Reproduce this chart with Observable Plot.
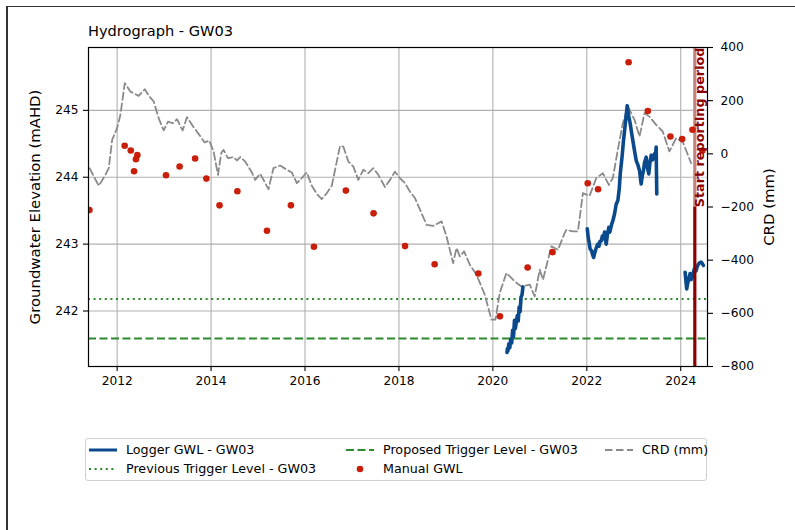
<!DOCTYPE html>
<html><head><meta charset="utf-8">
<script src="https://cdn.jsdelivr.net/npm/d3@7"></script>
<script src="https://cdn.jsdelivr.net/npm/@observablehq/plot@0.6"></script>
<style>
body{margin:0;background:#fff;font-family:"DejaVu Sans",sans-serif;color:#000;}
#wrap{position:relative;width:795px;height:530px;overflow:hidden;background:#fff;}
.bl{position:absolute;left:6px;top:6px;width:2px;height:530px;background:#333;}
.bt{position:absolute;left:6px;top:6px;width:800px;height:1px;background:#333;}
#title{position:absolute;left:88px;top:24px;font-size:14.6px;line-height:14.6px;white-space:nowrap;}
#chart{position:absolute;left:0;top:0;}
.lab{position:absolute;font-size:14.9px;line-height:16px;white-space:nowrap;transform:translate(-50%,-50%) rotate(-90deg);}
#legbox{position:absolute;left:85px;top:438px;width:622px;height:43px;border:1px solid #d0d0d0;border-radius:3px;box-sizing:border-box;}
.li{position:absolute;height:14px;line-height:14px;font-size:12.7px;white-space:nowrap;}
.li svg{position:absolute;top:0;}
</style></head><body>
<div id="wrap">
  <div class="bl"></div><div class="bt"></div>
  <div id="chart"></div>
  <div id="title">Hydrograph - GW03</div>
  <div class="lab" style="left:35px;top:207px;">Groundwater Elevation (mAHD)</div>
  <div class="lab" style="left:769px;top:207px;">CRD (mm)</div>
  <div id="legbox"></div>
  <div id="legend"></div>
</div>
<script>
// ---- Data ----
const manualT = [2011.41, 2012.16, 2012.29, 2012.43, 2012.40, 2012.36, 2013.04, 2013.33, 2013.66, 2013.90,
  2014.18, 2014.56, 2015.19, 2015.70, 2016.19, 2016.87, 2017.46, 2018.13, 2018.76, 2019.69,
  2020.15, 2020.74, 2021.27, 2022.02, 2022.24, 2022.89, 2023.30, 2023.78, 2024.03, 2024.25, 2024.46];
const manualV = [243.51, 244.47, 244.40, 244.33, 244.27, 244.09, 244.03, 244.16, 244.28, 243.98,
  243.58, 243.79, 243.20, 243.58, 242.96, 243.80, 243.46, 242.97, 242.70, 242.56,
  241.92, 242.65, 242.88, 243.91, 243.82, 245.72, 244.99, 244.61, 244.57, 244.71, 244.40];

const logger1T = [2020.30, 2020.31, 2020.32, 2020.34, 2020.36, 2020.38, 2020.40, 2020.42, 2020.44, 2020.46, 2020.48,
  2020.50, 2020.52, 2020.54, 2020.56, 2020.58, 2020.60, 2020.62, 2020.64];
const logger1V = [241.38, 241.44, 241.40, 241.51, 241.45, 241.58, 241.52, 241.71, 241.62, 241.86, 241.74,
  241.84, 241.93, 241.85, 242.06, 241.99, 242.21, 242.24, 242.36];

const logger2T = [2022.01, 2022.03, 2022.05, 2022.07, 2022.10, 2022.125, 2022.145, 2022.17, 2022.19, 2022.21, 2022.236,
  2022.26, 2022.28, 2022.308, 2022.33, 2022.35, 2022.378, 2022.40, 2022.414, 2022.44, 2022.47, 2022.49, 2022.51,
  2022.53, 2022.555, 2022.59, 2022.627, 2022.661, 2022.69, 2022.712, 2022.75, 2022.782, 2022.82, 2022.861,
  2022.89, 2022.925, 2022.95, 2022.98, 2023.01, 2023.052, 2023.09, 2023.122, 2023.158, 2023.18, 2023.207,
  2023.23, 2023.264, 2023.29, 2023.32, 2023.345, 2023.371, 2023.40, 2023.441, 2023.46, 2023.477, 2023.483, 2023.49];
const logger2V = [243.23, 243.10, 243.02, 242.93, 242.90, 242.84, 242.80, 242.87, 242.92, 242.96, 243.00,
  242.97, 243.04, 243.05, 243.12, 243.08, 243.18, 243.05, 243.00, 243.15, 243.25, 243.18, 243.24,
  243.30, 243.35, 243.45, 243.60, 243.65, 243.82, 244.05, 244.30, 244.55, 244.80, 245.07,
  244.92, 244.80, 244.68, 244.55, 244.42, 244.25, 244.18, 244.10, 243.90, 244.02, 244.10,
  244.22, 244.30, 244.15, 244.05, 244.22, 244.33, 244.26, 244.35, 244.30, 244.45, 244.10, 243.75];

const logger3T = [2024.093, 2024.11, 2024.127, 2024.15, 2024.17, 2024.20, 2024.22, 2024.242, 2024.27, 2024.291, 2024.327,
  2024.35, 2024.376, 2024.40, 2024.434, 2024.46, 2024.483];
const logger3V = [242.58, 242.45, 242.33, 242.42, 242.48, 242.56, 242.47, 242.50, 242.58, 242.63, 242.60,
  242.66, 242.70, 242.72, 242.73, 242.71, 242.68];

const crdT = [2011.413, 2011.503, 2011.609, 2011.751, 2011.821, 2011.894, 2012.000, 2012.070, 2012.162, 2012.283,
  2012.459, 2012.587, 2012.687, 2012.778, 2012.884, 2012.990, 2013.084, 2013.182, 2013.275, 2013.394,
  2013.488, 2013.594, 2013.734, 2013.862, 2013.962, 2014.053, 2014.147, 2014.217, 2014.266, 2014.359,
  2014.478, 2014.551, 2014.621, 2014.727, 2014.833, 2014.869, 2014.939, 2015.045, 2015.116, 2015.222,
  2015.328, 2015.471, 2015.613, 2015.719, 2015.826, 2015.932, 2016.038, 2016.145, 2016.251, 2016.357,
  2016.463, 2016.570, 2016.640, 2016.746, 2016.816, 2016.923, 2017.029, 2017.135, 2017.241, 2017.348,
  2017.454, 2017.560, 2017.703, 2017.809, 2017.915, 2018.021, 2018.128, 2018.234, 2018.340, 2018.589,
  2018.729, 2018.908, 2019.014, 2019.154, 2019.226, 2019.297, 2019.388, 2019.509, 2019.652, 2019.828,
  2019.970, 2020.055, 2020.147, 2020.289, 2020.466, 2020.608, 2020.785, 2020.891, 2020.997, 2021.067,
  2021.246, 2021.386, 2021.528, 2021.564, 2021.704, 2021.811, 2021.917, 2022.060, 2022.202, 2022.342,
  2022.470, 2022.555, 2022.661, 2022.767, 2022.873, 2023.016, 2023.122, 2023.228, 2023.334, 2023.477,
  2023.617, 2023.759, 2023.902, 2024.042, 2024.221];
const crdV = [-54, -85, -120, -79, -54, 53, 97, 147, 266, 234,
  218, 243, 215, 197, 134, 88, 121, 115, 130, 88,
  138, 109, 75, 43, 50, 9, -79, 3, 15, -16,
  -12, -25, -12, -29, -60, -70, -98, -75, -98, -133,
  -54, -44, -60, -70, -110, -91, -70, -120, -151, -170,
  -148, -120, -60, 30, 27, -29, -48, -98, -60, -73,
  -54, -79, -125, -98, -67, -91, -110, -142, -166, -267,
  -271, -254, -311, -411, -354, -386, -367, -417, -455, -530,
  -624, -624, -523, -448, -480, -499, -492, -536, -436, -473,
  -348, -361, -298, -286, -292, -292, -148, -158, -91, -73,
  -117, -91, 15, 115, 178, 128, 65, 153, 140, 109,
  84, 9, 59, 46, -35];

const previousTrigger = 242.18;
const proposedTrigger = 241.59;
const reportStart = 2024.30;
const reportLabel = "Start reporting period";

const xTicks = [2012, 2014, 2016, 2018, 2020, 2022, 2024];
const yTicks = [242, 243, 244, 245];
const crdTicks = [-800, -600, -400, -200, 0, 200, 400];

// ---- Scales ----
const xDom = [2011.39, 2024.57];
const yDom = [241.17, 245.94];
const crdDom = [-800, 400];
const crdToY = c => yDom[0] + (c - crdDom[0]) / (crdDom[1] - crdDom[0]) * (yDom[1] - yDom[0]);
const yToCrd = y => crdDom[0] + (y - yDom[0]) / (yDom[1] - yDom[0]) * (crdDom[1] - crdDom[0]);
const fmt = d3.format("d");

const manual = manualT.map((t, i) => ({t, v: manualV[i]}));
const logger = [
  ...logger1T.map((t, i) => ({t, v: logger1V[i], s: 1})),
  ...logger2T.map((t, i) => ({t, v: logger2V[i], s: 2})),
  ...logger3T.map((t, i) => ({t, v: logger3V[i], s: 3}))
];
const crd = crdT.map((t, i) => ({t, y: crdToY(crdV[i])}));

const C = {
  blue: "#0a4a8c", red: "#c81e0a", green: "#2b8a2b", grey: "#8a8a8a", dark: "#8b0000", grid: "#b0b0b0"
};

const chart = Plot.plot({
  width: 795, height: 530,
  marginLeft: 88, marginRight: 88, marginTop: 47, marginBottom: 164,
  style: {fontFamily: "DejaVu Sans, sans-serif", fontSize: "12.2px", color: "#000", background: "transparent", overflow: "visible"},
  x: {domain: xDom, label: null},
  y: {domain: yDom, label: null},
  marks: [
    Plot.gridX(xTicks, {stroke: C.grid, strokeOpacity: 1, strokeWidth: 1.1}),
    Plot.gridY(yTicks, {stroke: C.grid, strokeOpacity: 1, strokeWidth: 1.1}),
    Plot.ruleY([previousTrigger], {stroke: C.green, strokeWidth: 2, strokeDasharray: "2,3.6"}),
    Plot.ruleY([proposedTrigger], {stroke: C.green, strokeWidth: 2, strokeDasharray: "8,3.5"}),
    Plot.line(crd, {x: "t", y: "y", stroke: C.grey, strokeWidth: 1.8, strokeDasharray: "7.5,3.5", clip: true}),
    Plot.line(logger, {x: "t", y: "v", z: "s", stroke: C.blue, strokeWidth: 3.6, strokeLinejoin: "round", clip: true}),
    Plot.ruleX([reportStart], {stroke: C.dark, strokeWidth: 3.2}),
    Plot.ruleX([reportStart], {y1: 243.55, y2: yDom[1], stroke: "white", strokeOpacity: 0.5, strokeWidth: 14, dx: 5}),
    Plot.dot(manual, {x: "t", y: "v", r: 3.3, fill: C.red, stroke: "none", clip: true}),
    Plot.text([reportStart], {x: d => d, y: 243.55, text: () => reportLabel, rotate: -90, textAnchor: "start",
      lineAnchor: "middle", fontWeight: "bold", fontSize: 12.8, fill: C.dark, dx: 5.5}),
    Plot.frame({stroke: "#000", strokeWidth: 1.2}),
    Plot.axisX(xTicks, {tickFormat: fmt, tickSize: 5, tickPadding: 5, fontSize: 12.2, stroke: "#000", strokeWidth: 1.1}),
    Plot.axisY(yTicks, {anchor: "left", tickFormat: fmt, tickSize: 5, tickPadding: 5, fontSize: 12.2, label: null, strokeWidth: 1.1}),
    Plot.axisY(crdTicks.map(crdToY), {anchor: "right", tickFormat: d => fmt(Math.round(yToCrd(d) / 10) * 10),
      tickSize: 5, tickPadding: 8, fontSize: 12.2, label: null, strokeWidth: 1.1})
  ]
});
document.getElementById("chart").appendChild(chart);

// ---- Legend ----
const legendItems = [
  {label: "Logger GWL - GW03", kind: "line", color: C.blue, w: 3, dash: null, x: 89, y: 443},
  {label: "Previous Trigger Level - GW03", kind: "line", color: C.green, w: 2, dash: "2,3.6", x: 89, y: 462},
  {label: "Proposed Trigger Level - GW03", kind: "line", color: C.green, w: 2, dash: "8,3.5", x: 346, y: 443},
  {label: "Manual GWL", kind: "dot", color: C.red, x: 346, y: 462},
  {label: "CRD (mm)", kind: "line", color: C.grey, w: 1.8, dash: "7.5,3.5", x: 605, y: 443}
];
const leg = document.getElementById("legend");
for (const it of legendItems) {
  const d = document.createElement("div");
  d.className = "li";
  d.style.left = it.x + "px";
  d.style.top = it.y + "px";
  const sw = it.kind === "dot"
    ? `<svg width="28" height="14"><circle cx="14" cy="7" r="3.3" fill="${it.color}"/></svg>`
    : `<svg width="28" height="14"><line x1="0" y1="7" x2="28" y2="7" stroke="${it.color}" stroke-width="${it.w}" ${it.dash ? `stroke-dasharray="${it.dash}"` : ""}/></svg>`;
  d.innerHTML = sw + `<span style="position:absolute;left:37px;top:0">${it.label}</span>`;
  leg.appendChild(d);
}
</script>
</body></html>
